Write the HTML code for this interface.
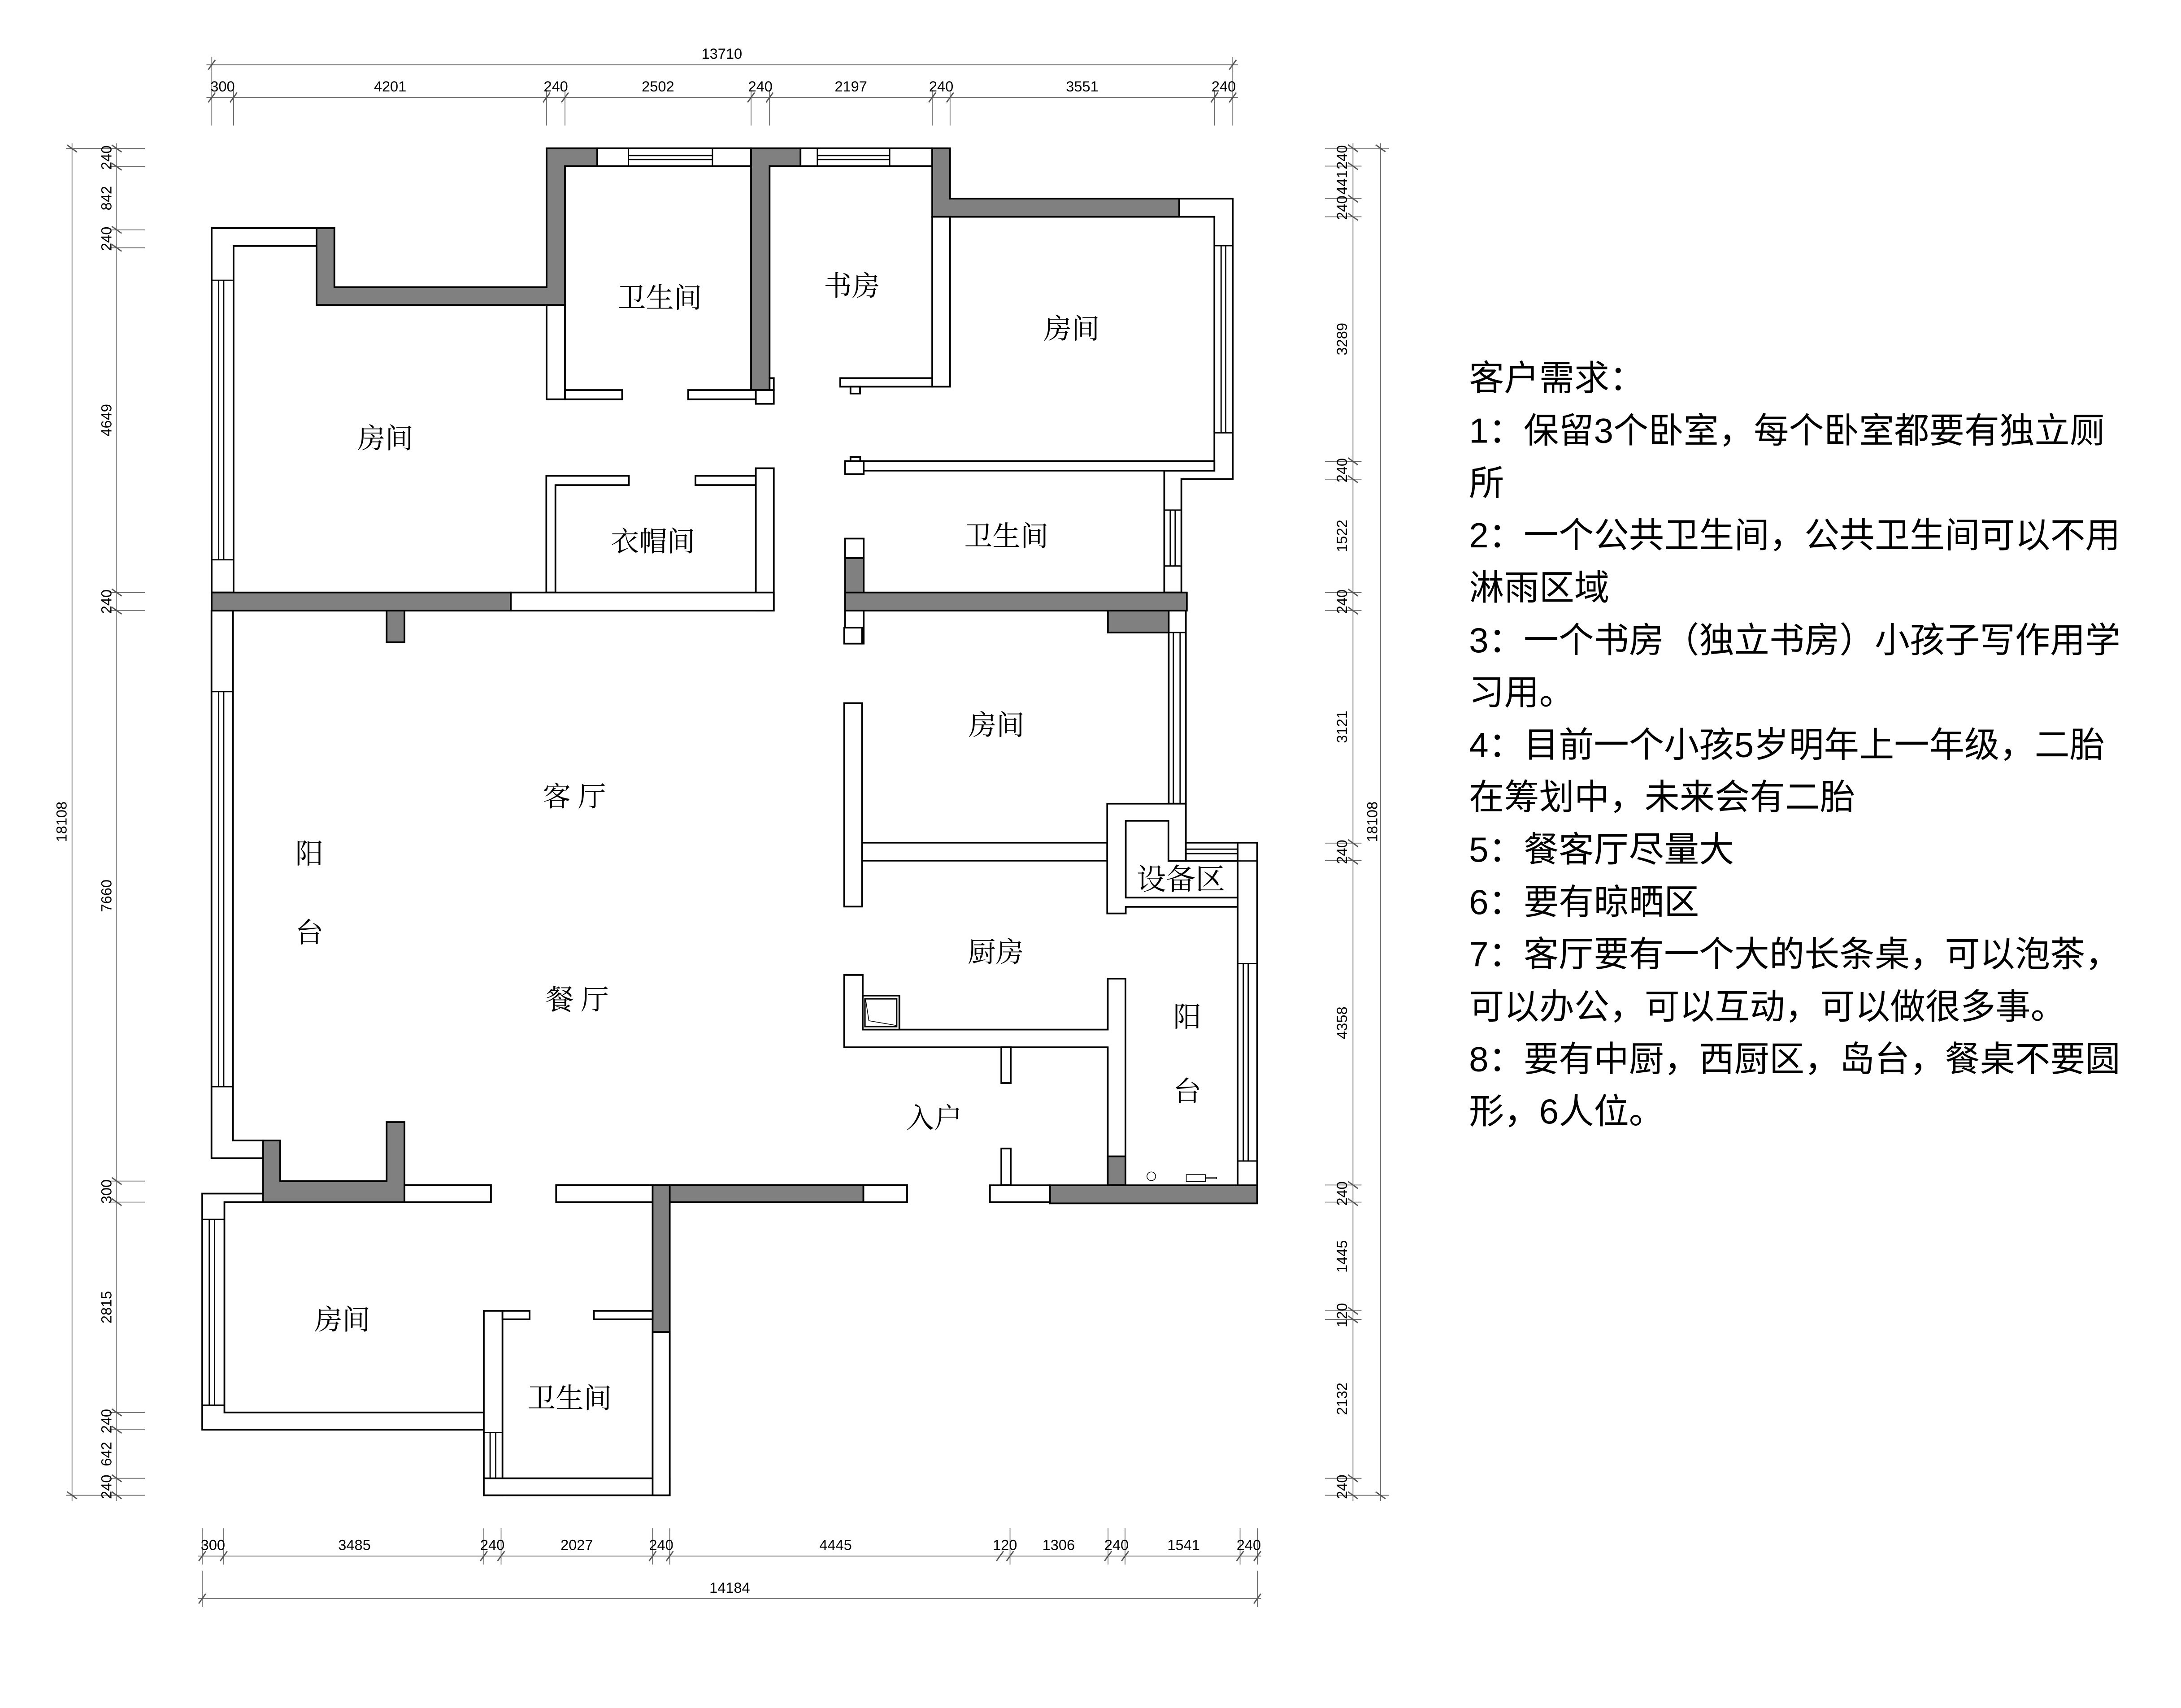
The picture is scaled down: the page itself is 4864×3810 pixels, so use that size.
<!DOCTYPE html>
<html><head><meta charset="utf-8">
<style>
html,body{margin:0;padding:0;background:#fff;}
svg{display:block;}
.w{fill:#fff;stroke:#000;stroke-width:1.2;}
.g{fill:#808080;stroke:#000;stroke-width:1.2;}
.ln{stroke:#000;stroke-width:0.9;fill:none;}
.d{stroke:#666;stroke-width:0.55;fill:none;}
.t{stroke:#555;stroke-width:0.9;}
.dt{font-family:"Liberation Sans",sans-serif;font-size:10.4px;fill:#000;}
.rm{font-family:"Liberation Serif","Noto Serif CJK SC",serif;font-size:20px;fill:#000;}
.rq{font-family:"Liberation Sans","Noto Sans CJK SC",sans-serif;font-size:25px;fill:#000;}
</style></head>
<body>
<svg width="4864" height="3810" viewBox="0 0 1553 1216.5" preserveAspectRatio="none" xmlns="http://www.w3.org/2000/svg">
<rect x="0" y="0" width="1553" height="1216.5" fill="#fff"/>

<!-- ===== TOP DIMENSIONS ===== -->
<line class="d" x1="147" y1="46.1" x2="881.5" y2="46.1"/>
<line class="d" x1="147" y1="69.4" x2="881.5" y2="69.4"/>
<line class="d" x1="150.8" y1="40.5" x2="150.8" y2="89.4"/>
<line class="d" x1="877.8" y1="40.5" x2="877.8" y2="89.4"/>
<g class="d">
<line x1="166.3" y1="64" x2="166.3" y2="89.4"/><line x1="389.2" y1="64" x2="389.2" y2="89.4"/>
<line x1="402.3" y1="64" x2="402.3" y2="89.4"/><line x1="534.8" y1="64" x2="534.8" y2="89.4"/>
<line x1="548" y1="64" x2="548" y2="89.4"/><line x1="663.8" y1="64" x2="663.8" y2="89.4"/>
<line x1="676.5" y1="64" x2="676.5" y2="89.4"/><line x1="864.7" y1="64" x2="864.7" y2="89.4"/>
</g>
<g class="t">
<line x1="148.3" y1="49.6" x2="153.3" y2="42.6"/><line x1="875.3" y1="49.6" x2="880.3" y2="42.6"/>
<line x1="148.3" y1="72.9" x2="153.3" y2="65.9"/><line x1="163.8" y1="72.9" x2="168.8" y2="65.9"/>
<line x1="386.7" y1="72.9" x2="391.7" y2="65.9"/><line x1="399.8" y1="72.9" x2="404.8" y2="65.9"/>
<line x1="532.3" y1="72.9" x2="537.3" y2="65.9"/><line x1="545.5" y1="72.9" x2="550.5" y2="65.9"/>
<line x1="661.3" y1="72.9" x2="666.3" y2="65.9"/><line x1="674" y1="72.9" x2="679" y2="65.9"/>
<line x1="862.2" y1="72.9" x2="867.2" y2="65.9"/><line x1="875.3" y1="72.9" x2="880.3" y2="65.9"/>
</g>
<g class="dt" text-anchor="middle">
<text x="514" y="41.8">13710</text>
<text x="158.5" y="65.1">300</text><text x="277.8" y="65.1">4201</text><text x="395.8" y="65.1">240</text>
<text x="468.5" y="65.1">2502</text><text x="541.4" y="65.1">240</text><text x="605.9" y="65.1">2197</text>
<text x="670.2" y="65.1">240</text><text x="770.6" y="65.1">3551</text><text x="871.3" y="65.1">240</text>
</g>

<!-- ===== BOTTOM DIMENSIONS ===== -->
<line class="d" x1="141" y1="1108.3" x2="898" y2="1108.3"/>
<line class="d" x1="141" y1="1138.6" x2="898" y2="1138.6"/>
<g class="d">
<line x1="144" y1="1088.5" x2="144" y2="1114.3"/><line x1="159.3" y1="1088.5" x2="159.3" y2="1114.3"/>
<line x1="344.5" y1="1088.5" x2="344.5" y2="1114.3"/><line x1="356.8" y1="1088.5" x2="356.8" y2="1114.3"/>
<line x1="464.7" y1="1088.5" x2="464.7" y2="1114.3"/><line x1="476.9" y1="1088.5" x2="476.9" y2="1114.3"/>
<line x1="719.2" y1="1088.5" x2="719.2" y2="1114.3"/>
<line x1="789" y1="1088.5" x2="789" y2="1114.3"/><line x1="801.1" y1="1088.5" x2="801.1" y2="1114.3"/>
<line x1="883" y1="1088.5" x2="883" y2="1114.3"/><line x1="895.3" y1="1088.5" x2="895.3" y2="1114.3"/>
<line x1="144" y1="1118.7" x2="144" y2="1144.6"/><line x1="895.3" y1="1118.7" x2="895.3" y2="1144.6"/>
</g>
<g class="t">
<line x1="141.5" y1="1111.8" x2="146.5" y2="1104.8"/><line x1="156.8" y1="1111.8" x2="161.8" y2="1104.8"/>
<line x1="342" y1="1111.8" x2="347" y2="1104.8"/><line x1="354.3" y1="1111.8" x2="359.3" y2="1104.8"/>
<line x1="462.2" y1="1111.8" x2="467.2" y2="1104.8"/><line x1="474.4" y1="1111.8" x2="479.4" y2="1104.8"/>
<line x1="709.5" y1="1111.8" x2="714.5" y2="1104.8"/><line x1="716.7" y1="1111.8" x2="721.7" y2="1104.8"/>
<line x1="786.5" y1="1111.8" x2="791.5" y2="1104.8"/><line x1="798.6" y1="1111.8" x2="803.6" y2="1104.8"/>
<line x1="880.5" y1="1111.8" x2="885.5" y2="1104.8"/><line x1="892.8" y1="1111.8" x2="897.8" y2="1104.8"/>
<line x1="141.5" y1="1142.1" x2="146.5" y2="1135.1"/><line x1="892.8" y1="1142.1" x2="897.8" y2="1135.1"/>
</g>
<g class="dt" text-anchor="middle">
<text x="151.6" y="1104">300</text><text x="252.4" y="1104">3485</text><text x="350.6" y="1104">240</text>
<text x="410.7" y="1104">2027</text><text x="470.8" y="1104">240</text><text x="595" y="1104">4445</text>
<text x="715.6" y="1104">120</text><text x="753.8" y="1104">1306</text><text x="795" y="1104">240</text>
<text x="842.8" y="1104">1541</text><text x="889.2" y="1104">240</text>
<text x="519.6" y="1134.4">14184</text>
</g>

<!-- ===== LEFT DIMENSIONS ===== -->
<line class="d" x1="51.3" y1="102" x2="51.3" y2="1069"/>
<line class="d" x1="83.1" y1="102" x2="83.1" y2="1069"/>
<g class="d">
<line x1="47" y1="105.8" x2="103.2" y2="105.8"/><line x1="47" y1="1065" x2="103.2" y2="1065"/>
<line x1="78" y1="118.7" x2="103.2" y2="118.7"/><line x1="78" y1="163.7" x2="103.2" y2="163.7"/>
<line x1="78" y1="176.5" x2="103.2" y2="176.5"/><line x1="78" y1="422" x2="103.2" y2="422"/>
<line x1="78" y1="434.9" x2="103.2" y2="434.9"/><line x1="78" y1="841.2" x2="103.2" y2="841.2"/>
<line x1="78" y1="856.2" x2="103.2" y2="856.2"/><line x1="78" y1="1006" x2="103.2" y2="1006"/>
<line x1="78" y1="1018.3" x2="103.2" y2="1018.3"/><line x1="78" y1="1052.9" x2="103.2" y2="1052.9"/>
</g>
<g class="t">
<line x1="47.8" y1="103.3" x2="54.8" y2="108.3"/><line x1="47.8" y1="1062.5" x2="54.8" y2="1067.5"/>
<line x1="79.6" y1="103.3" x2="86.6" y2="108.3"/><line x1="79.6" y1="116.2" x2="86.6" y2="121.2"/>
<line x1="79.6" y1="161.2" x2="86.6" y2="166.2"/><line x1="79.6" y1="174" x2="86.6" y2="179"/>
<line x1="79.6" y1="419.5" x2="86.6" y2="424.5"/><line x1="79.6" y1="432.4" x2="86.6" y2="437.4"/>
<line x1="79.6" y1="838.7" x2="86.6" y2="843.7"/><line x1="79.6" y1="853.7" x2="86.6" y2="858.7"/>
<line x1="79.6" y1="1003.5" x2="86.6" y2="1008.5"/><line x1="79.6" y1="1015.8" x2="86.6" y2="1020.8"/>
<line x1="79.6" y1="1050.4" x2="86.6" y2="1055.4"/><line x1="79.6" y1="1062.5" x2="86.6" y2="1067.5"/>
</g>
<g class="dt" text-anchor="middle">
<text transform="translate(47.4,585.3) rotate(-90)">18108</text>
<text transform="translate(79.3,112.3) rotate(-90)">240</text>
<text transform="translate(79.3,141.2) rotate(-90)">842</text>
<text transform="translate(79.3,170.1) rotate(-90)">240</text>
<text transform="translate(79.3,299.3) rotate(-90)">4649</text>
<text transform="translate(79.3,428.5) rotate(-90)">240</text>
<text transform="translate(79.3,638) rotate(-90)">7660</text>
<text transform="translate(79.3,848.7) rotate(-90)">300</text>
<text transform="translate(79.3,931.1) rotate(-90)">2815</text>
<text transform="translate(79.3,1012.2) rotate(-90)">240</text>
<text transform="translate(79.3,1035.6) rotate(-90)">642</text>
<text transform="translate(79.3,1059) rotate(-90)">240</text>
</g>

<!-- ===== RIGHT DIMENSIONS ===== -->
<line class="d" x1="963.4" y1="102" x2="963.4" y2="1069"/>
<line class="d" x1="983" y1="102" x2="983" y2="1069"/>
<g class="d">
<line x1="943.5" y1="105.6" x2="989" y2="105.6"/><line x1="943.5" y1="1065" x2="989" y2="1065"/>
<line x1="943.5" y1="118.3" x2="969.5" y2="118.3"/><line x1="943.5" y1="141.5" x2="969.5" y2="141.5"/>
<line x1="943.5" y1="154.4" x2="969.5" y2="154.4"/><line x1="943.5" y1="328.6" x2="969.5" y2="328.6"/>
<line x1="943.5" y1="341.3" x2="969.5" y2="341.3"/><line x1="943.5" y1="422" x2="969.5" y2="422"/>
<line x1="943.5" y1="434.9" x2="969.5" y2="434.9"/><line x1="943.5" y1="600.5" x2="969.5" y2="600.5"/>
<line x1="943.5" y1="613" x2="969.5" y2="613"/><line x1="943.5" y1="844" x2="969.5" y2="844"/>
<line x1="943.5" y1="856.2" x2="969.5" y2="856.2"/><line x1="943.5" y1="933.6" x2="969.5" y2="933.6"/>
<line x1="943.5" y1="939.7" x2="969.5" y2="939.7"/><line x1="943.5" y1="1052.9" x2="969.5" y2="1052.9"/>
</g>
<g class="t">
<line x1="979.5" y1="103.1" x2="986.5" y2="108.1"/><line x1="979.5" y1="1062.5" x2="986.5" y2="1067.5"/>
<line x1="959.9" y1="103.1" x2="966.9" y2="108.1"/><line x1="959.9" y1="115.8" x2="966.9" y2="120.8"/>
<line x1="959.9" y1="139" x2="966.9" y2="144"/><line x1="959.9" y1="151.9" x2="966.9" y2="156.9"/>
<line x1="959.9" y1="326.1" x2="966.9" y2="331.1"/><line x1="959.9" y1="338.8" x2="966.9" y2="343.8"/>
<line x1="959.9" y1="419.5" x2="966.9" y2="424.5"/><line x1="959.9" y1="432.4" x2="966.9" y2="437.4"/>
<line x1="959.9" y1="598" x2="966.9" y2="603"/><line x1="959.9" y1="610.5" x2="966.9" y2="615.5"/>
<line x1="959.9" y1="841.5" x2="966.9" y2="846.5"/><line x1="959.9" y1="853.7" x2="966.9" y2="858.7"/>
<line x1="959.9" y1="931.1" x2="966.9" y2="936.1"/><line x1="959.9" y1="937.2" x2="966.9" y2="942.2"/>
<line x1="959.9" y1="1050.4" x2="966.9" y2="1055.4"/><line x1="959.9" y1="1062.5" x2="966.9" y2="1067.5"/>
</g>
<g class="dt" text-anchor="middle">
<text transform="translate(980.7,585.3) rotate(-90)">18108</text>
<text transform="translate(959.2,112) rotate(-90)">240</text>
<text transform="translate(959.2,129.9) rotate(-90)">441</text>
<text transform="translate(959.2,148) rotate(-90)">240</text>
<text transform="translate(959.2,241.5) rotate(-90)">3289</text>
<text transform="translate(959.2,335) rotate(-90)">240</text>
<text transform="translate(959.2,381.7) rotate(-90)">1522</text>
<text transform="translate(959.2,428.5) rotate(-90)">240</text>
<text transform="translate(959.2,517.7) rotate(-90)">3121</text>
<text transform="translate(959.2,606.8) rotate(-90)">240</text>
<text transform="translate(959.2,728.5) rotate(-90)">4358</text>
<text transform="translate(959.2,850.1) rotate(-90)">240</text>
<text transform="translate(959.2,894.9) rotate(-90)">1445</text>
<text transform="translate(959.2,936.7) rotate(-90)">120</text>
<text transform="translate(959.2,996.3) rotate(-90)">2132</text>
<text transform="translate(959.2,1059) rotate(-90)">240</text>
</g>

<!-- ===== WALLS TOP ===== -->
<!-- left top white -->
<path class="w" d="M150.7,162.5 H225.4 V175.2 H166.3 V422 H150.7 Z"/>
<!-- left window upper -->
<line class="ln" x1="155.7" y1="199.6" x2="155.7" y2="398.7"/><line class="ln" x1="159.3" y1="199.6" x2="159.3" y2="398.7"/>
<line class="ln" x1="150.7" y1="199.6" x2="166.3" y2="199.6"/><line class="ln" x1="150.7" y1="398.7" x2="166.3" y2="398.7"/>
<!-- gray walls -->
<path class="g" d="M225.4,162.5 H238.1 V204.5 H389.2 V105.6 H425.3 V118.3 H402.3 V217.2 H225.4 Z"/>
<rect class="w" x="425.3" y="105.6" width="109.5" height="12.7"/>
<line class="ln" x1="447.5" y1="105.6" x2="447.5" y2="118.3"/><line class="ln" x1="507.3" y1="105.6" x2="507.3" y2="118.3"/>
<line class="ln" x1="447.5" y1="110.8" x2="507.3" y2="110.8"/><line class="ln" x1="447.5" y1="113.6" x2="507.3" y2="113.6"/>
<path class="g" d="M534.8,105.6 H570 V118.3 H548 V277.8 H534.8 Z"/>
<rect class="w" x="570" y="105.6" width="93.8" height="12.7"/>
<line class="ln" x1="582" y1="105.6" x2="582" y2="118.3"/><line class="ln" x1="633.5" y1="105.6" x2="633.5" y2="118.3"/>
<line class="ln" x1="582" y1="110.8" x2="633.5" y2="110.8"/><line class="ln" x1="582" y1="113.6" x2="633.5" y2="113.6"/>
<path class="g" d="M663.8,105.6 H676.5 V141.5 H839.7 V154.4 H663.8 Z"/>
<!-- right upper white wall -->
<path class="w" d="M839.7,141.5 H877.8 V341.3 H841.2 V422 H829 V335.2 H864.7 V154.4 H839.7 Z"/>
<line class="ln" x1="864.7" y1="175" x2="877.8" y2="175"/><line class="ln" x1="864.7" y1="308.3" x2="877.8" y2="308.3"/>
<line class="ln" x1="869.5" y1="175" x2="869.5" y2="308.3"/><line class="ln" x1="872.8" y1="175" x2="872.8" y2="308.3"/>
<line class="ln" x1="829" y1="363.3" x2="841.2" y2="363.3"/><line class="ln" x1="829" y1="403.1" x2="841.2" y2="403.1"/>
<line class="ln" x1="833.3" y1="363.3" x2="833.3" y2="403.1"/><line class="ln" x1="836.8" y1="363.3" x2="836.8" y2="403.1"/>
<!-- partition between right bedroom and bath -->
<rect class="w" x="601.7" y="328.4" width="263" height="6.8"/>
<rect class="w" x="601.7" y="328.4" width="13.3" height="9.3"/>
<rect class="w" x="605.6" y="325.4" width="6.9" height="3"/>
<!-- bath left (top) -->
<rect class="w" x="389.2" y="217.2" width="13.1" height="67.2"/>
<rect class="w" x="402.3" y="277.8" width="40.7" height="6.6"/>
<rect class="w" x="490" y="277.8" width="48.2" height="6.6"/>
<rect class="w" x="538.2" y="277.8" width="12.8" height="9.8"/>
<rect class="w" x="548" y="269.3" width="3" height="8.5"/>
<!-- study right wall -->
<rect class="w" x="663.8" y="154.4" width="12.7" height="121"/>
<rect class="w" x="598.3" y="269.3" width="65.5" height="6.1"/>
<rect class="w" x="605.6" y="275.4" width="6.8" height="4.9"/>
<!-- wardrobe -->
<path class="w" d="M389,338.9 H447.8 V345.5 H395.5 V422 H389 Z"/>
<rect class="w" x="495.2" y="338.9" width="43" height="6.6"/>
<rect class="w" x="538.2" y="333.5" width="12.8" height="101.4"/>
<!-- big middle wall -->
<rect class="g" x="150.7" y="422" width="213" height="12.9"/>
<rect class="w" x="363.7" y="422" width="187.3" height="12.9"/>
<rect class="g" x="275.3" y="434.9" width="12.7" height="22.5"/>
<rect class="w" x="601.7" y="383.6" width="13.3" height="13.9"/>
<rect class="g" x="601.7" y="397.5" width="13.3" height="37.4"/>
<rect class="g" x="601.7" y="422" width="243.4" height="12.9"/>
<rect class="w" x="601.7" y="434.9" width="13.3" height="23.5"/>
<rect class="g" x="788.9" y="434.9" width="43.5" height="15.6"/>
<!-- right bedroom right wall with window -->
<rect class="w" x="832.2" y="434.9" width="12.2" height="137.5"/>
<line class="ln" x1="835.5" y1="450.5" x2="835.5" y2="572.4"/><line class="ln" x1="840.3" y1="450.5" x2="840.3" y2="572.4"/>
<line class="ln" x1="832.2" y1="450.5" x2="844.4" y2="450.5"/>

<!-- ===== WALLS LOWER ===== -->
<path class="w" d="M150.6,434.9 V824.9 H187.3 V812.3 H165.9 V434.9 Z"/>
<line class="ln" x1="155.7" y1="492.6" x2="155.7" y2="774"/><line class="ln" x1="159.3" y1="492.6" x2="159.3" y2="774"/>
<line class="ln" x1="150.6" y1="492.6" x2="165.9" y2="492.6"/><line class="ln" x1="150.6" y1="774" x2="165.9" y2="774"/>
<path class="g" d="M187.3,812.3 H199.5 V841.2 H275.3 V799.2 H288 V856.2 H187.3 Z"/>
<rect class="w" x="288" y="844" width="61.6" height="12.2"/>
<rect class="w" x="396" y="844" width="68.7" height="12.2"/>
<rect class="g" x="464.7" y="844" width="150.1" height="12.2"/>
<rect class="w" x="614.8" y="844" width="31.1" height="12.2"/>
<rect class="g" x="464.7" y="844" width="12.2" height="104.7"/>
<rect class="w" x="464.7" y="948.7" width="12.2" height="116.3"/>
<!-- bottom bedroom -->
<path class="w" d="M144,850.1 H187.3 V856.2 H159.8 V1006 H344.5 V1018.3 H144 Z"/>
<line class="ln" x1="144" y1="868.5" x2="159.8" y2="868.5"/><line class="ln" x1="144" y1="1000.8" x2="159.8" y2="1000.8"/>
<line class="ln" x1="149" y1="868.5" x2="149" y2="1000.8"/><line class="ln" x1="152.8" y1="868.5" x2="152.8" y2="1000.8"/>
<!-- bottom bath -->
<rect class="w" x="344.5" y="933.6" width="13.3" height="131.4"/>
<rect class="w" x="357.8" y="933.6" width="19.3" height="6.1"/>
<rect class="w" x="422.9" y="933.6" width="41.8" height="6.1"/>
<rect class="w" x="344.5" y="1052.9" width="132.4" height="12.1"/>
<rect class="w" x="464.7" y="948.7" width="12.2" height="116.3" style="stroke-width:1.2"/>
<line class="ln" x1="344.5" y1="1020.3" x2="357.8" y2="1020.3"/>
<line class="ln" x1="349" y1="1020.3" x2="349" y2="1052.9"/><line class="ln" x1="353" y1="1020.3" x2="353" y2="1052.9"/>
<!-- right bedroom lower -->
<rect class="w" x="601.1" y="447" width="12.7" height="11.4"/>
<rect class="w" x="601.1" y="500.8" width="12.7" height="144.9"/>
<rect class="w" x="613.8" y="600.2" width="174.6" height="12.8"/>
<!-- equipment area -->
<path class="w" d="M788.4,572.4 H844.4 V613.2 H832 V584.6 H801.6 V639.3 H881.3 V645.9 H801.6 V650.6 H788.4 Z"/>
<rect class="w" x="844.4" y="600.2" width="36.9" height="13"/>
<line class="ln" x1="844.4" y1="604.8" x2="881.3" y2="604.8"/><line class="ln" x1="844.4" y1="608" x2="881.3" y2="608"/>
<!-- balcony right wall -->
<rect class="w" x="881.3" y="600.2" width="13.9" height="256"/>
<line class="ln" x1="881.3" y1="613.2" x2="895.2" y2="613.2"/>
<line class="ln" x1="881.3" y1="686.3" x2="895.2" y2="686.3"/><line class="ln" x1="881.3" y1="826.9" x2="895.2" y2="826.9"/>
<line class="ln" x1="885.3" y1="686.3" x2="885.3" y2="826.9"/><line class="ln" x1="888.8" y1="686.3" x2="888.8" y2="826.9"/>
<!-- kitchen -->
<path class="w" d="M601.1,694.4 H614.3 V733.3 H788.8 V697 H801.4 V844 H788.8 V745.9 H601.1 Z"/>
<rect class="g" x="788.8" y="823.6" width="12.6" height="20.4"/>
<rect class="w" x="614.3" y="709.1" width="26.1" height="24.2"/>
<rect class="w" x="615.9" y="711.4" width="22.6" height="19.8" style="stroke-width:1"/>
<polyline class="ln" style="stroke-width:0.5" points="616.4,712 618.7,727 638.4,730.4"/>
<rect class="w" x="713" y="745.9" width="6.7" height="25.5"/>
<rect class="w" x="713" y="818" width="6.7" height="26"/>
<!-- bottom right -->
<rect class="w" x="704.9" y="844.2" width="42.8" height="12"/>
<rect class="g" x="747.7" y="844.2" width="147.5" height="12.9"/>
<circle cx="819.8" cy="837.8" r="3.1" fill="none" stroke="#000" stroke-width="0.5"/>
<rect x="844.7" y="836.6" width="13.6" height="4.8" fill="none" stroke="#000" stroke-width="0.5"/>
<rect x="858.3" y="838.5" width="8" height="1" fill="none" stroke="#000" stroke-width="0.4"/>

<!-- ===== ROOM LABELS ===== -->
<g class="rm" text-anchor="middle">
<text x="469.8" y="219">卫生间</text>
<text x="606.6" y="210.5">书房</text>
<text x="763" y="241">房间</text>
<text x="274.3" y="319.2">房间</text>
<text x="465" y="392.5">衣帽间</text>
<text x="716.6" y="388.8">卫生间</text>
<text x="409" y="574.2">客 厅</text>
<text x="220.3" y="615">阳</text>
<text x="220.3" y="671.1">台</text>
<text x="411" y="718.9">餐 厅</text>
<text x="709.5" y="523.4">房间</text>
<text x="840.8" y="633.4" style="font-size:21px">设备区</text>
<text x="709" y="685.1">厨房</text>
<text x="845.4" y="731.1">阳</text>
<text x="845.4" y="784.2">台</text>
<text x="665.2" y="803.1">入户</text>
<text x="243.7" y="946.9">房间</text>
<text x="405.6" y="1002.7">卫生间</text>
</g>

<!-- ===== REQUIREMENTS ===== -->
<g class="rq">
<text x="1046" y="278">客户需求：</text>
<text x="1046" y="315.3">1：保留3个卧室，每个卧室都要有独立厕</text>
<text x="1046" y="352.6">所</text>
<text x="1046" y="389.9">2：一个公共卫生间，公共卫生间可以不用</text>
<text x="1046" y="427.2">淋雨区域</text>
<text x="1046" y="464.5">3：一个书房（独立书房）小孩子写作用学</text>
<text x="1046" y="501.8">习用。</text>
<text x="1046" y="539.1">4：目前一个小孩5岁明年上一年级，二胎</text>
<text x="1046" y="576.4">在筹划中，未来会有二胎</text>
<text x="1046" y="613.7">5：餐客厅尽量大</text>
<text x="1046" y="651">6：要有晾晒区</text>
<text x="1046" y="688.3">7：客厅要有一个大的长条桌，可以泡茶，</text>
<text x="1046" y="725.6">可以办公，可以互动，可以做很多事。</text>
<text x="1046" y="762.9">8：要有中厨，西厨区，岛台，餐桌不要圆</text>
<text x="1046" y="800.2">形，6人位。</text>
</g>
</svg>
</body></html>
